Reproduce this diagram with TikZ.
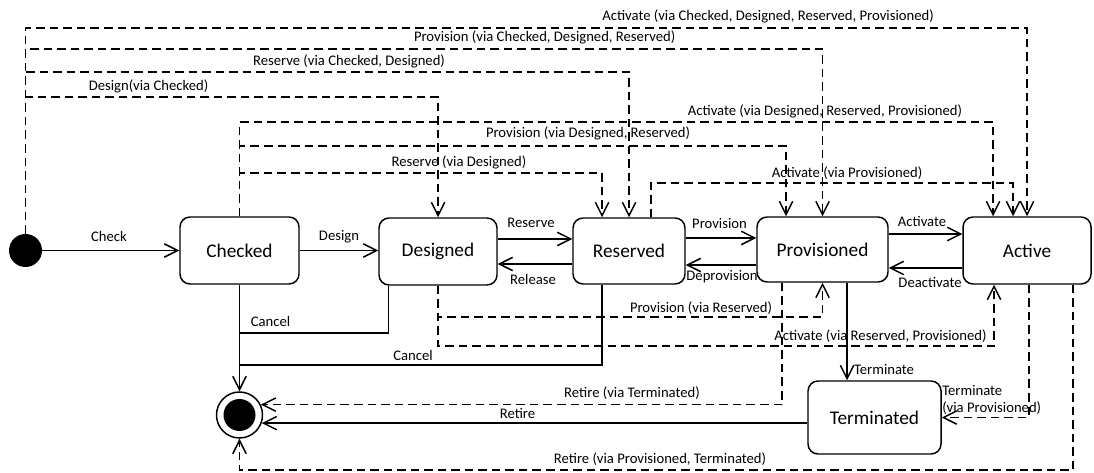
\documentclass[tikz,border=0pt]{standalone}
\usepackage{fontspec}
\setmainfont{Carlito}
\usetikzlibrary{arrows.meta,calc}
\tikzset{
  stbox/.style={draw,rounded corners=7.5pt,line width=1.1pt,inner sep=0pt,font=\fontsize{14.5}{16}\selectfont},
  lbl/.style={inner sep=0pt,font=\fontsize{11}{13}\selectfont},
  sl/.style={line width=1.1pt},
  tr/.style={line width=1.1pt,-{Straight Barb[length=10pt,width=10pt,line width=1.1pt]}},
  dtr/.style={line width=1.1pt,dash pattern=on 6.4pt off 3.75pt,-{Straight Barb[length=10pt,width=10pt,line width=1.1pt]}}
}
\begin{document}
\begin{tikzpicture}[x=0.75pt,y=-0.75pt]
\useasboundingbox (0,0) rectangle (1094,473);
% states
\node[circle,fill=black,inner sep=0pt,minimum size=24.75pt] (init) at (25.5,250.5) {};
\node[circle,draw,line width=1.1pt,inner sep=0pt,minimum size=34.5pt] (fin) at (239.5,415) {};
\node[circle,fill=black,inner sep=0pt,minimum size=24pt] (fincore) at (fin) {};
\node[stbox,minimum width=89.25pt,minimum height=50.25pt] (checked) at (239.5,250.5) {Checked};
\node[stbox,minimum width=88.5pt,minimum height=50.25pt] (des) at (438,251.5) {Designed};
\node[stbox,minimum width=84pt,minimum height=49.5pt] (res) at (629,251) {Reserved};
\node[stbox,minimum width=98.25pt,minimum height=48.75pt] (prov) at (822.5,249.5) {Provisioned};
\node[stbox,minimum width=96pt,minimum height=50.25pt] (active) at (1027,250.5) {Active};
\node[stbox,minimum width=99.75pt,minimum height=54.75pt] (term) at (874.5,417.5) {Terminated};
% top dashed routes
\draw[dtr] (init.north) -- (init.north |- 0,28) -| (active.north);
\draw[dtr] (init.north) -- (init.north |- 0,49) -| (prov.north);
\draw[dtr] (init.north) -- (init.north |- 0,72) -| (res.north);
\draw[dtr] (init.north) -- (init.north |- 0,97) -| (des.north);
\draw[dtr] (checked.north) -- (checked.north |- 0,122) -| ($(active.north)+(-34,0)$);
\draw[dtr] (checked.north) -- (checked.north |- 0,146) -| ($(prov.north)+(-36.5,0)$);
\draw[dtr] (checked.north) -- (checked.north |- 0,173) -| ($(res.north)+(-27,0)$);
\draw[dtr] ($(res.north)+(22,0)$) coordinate (r8) -- (r8 |- 0,183) -| ($(active.north)+(-14,0)$);
% horizontal transitions
\draw[tr] (init.east) -- (checked.west);
\draw[tr] (checked.east) -- (checked.east -| des.west);
\draw[tr] (des.east |- 0,239) -- (res.west |- 0,239);
\draw[tr] (res.west |- 0,264) -- (des.east |- 0,264);
\draw[tr] (res.east |- 0,238) -- (prov.west |- 0,238);
\draw[tr] (prov.west |- 0,265) -- (res.east |- 0,265);
\draw[tr] (prov.east |- 0,234) -- (active.west |- 0,234);
\draw[tr] (active.west |- 0,268) -- (prov.east |- 0,268);
% bottom
\draw[tr] (checked.south) -- (fin.north);
\draw[sl] ($(des.south)+(-49.5,0)$) |- (checked.south |- 0,333);
\draw[sl] ($(res.south)+(-27,0)$) |- (checked.south |- 0,365);
\draw[dtr] (des.south) -- (des.south |- 0,317) -| (prov.south);
\draw[dtr] (des.south) -- (des.south |- 0,346) -| ($(active.south)+(-33,0)$);
\draw[dtr] ($(prov.south)+(-40.5,0)$) |- (fin.26);
\draw[tr] ($(prov.south)+(24.5,0)$) coordinate (t1) -- (t1 |- term.north);
\draw[dtr] ($(active.south)+(2,0)$) |- (term.east);
\draw[tr] (term.west |- fin.-20) -- (fin.-20);
\draw[dtr] ($(active.south)+(46,0)$) coordinate (a17) -- (a17 |- 0,470) -| (fin.south);
% labels
\node[lbl] (l1) at (768,16) {Activate (via Checked, Designed, Reserved, Provisioned)};
\node[lbl] (l2) at (544.6,37) {Provision (via Checked, Designed, Reserved)};
\node[lbl] (l3) at (349,61) {Reserve (via Checked, Designed)};
\node[lbl] (l4) at (148.5,86) {Design(via Checked)};
\node[lbl] (l5) at (825,111) {Activate (via Designed, Reserved, Provisioned)};
\node[lbl] (l6) at (588,133) {Provision (via Designed, Reserved)};
\node[lbl] (l7) at (459,162) {Reserve (via Designed)};
\node[lbl] (l8) at (847,173) {Activate (via Provisioned)};
\node[lbl] (l9) at (109,236) {Check};
\node[lbl] (l10) at (339,237) {Design};
\node[lbl] (l11) at (531,223) {Reserve};
\node[lbl] (l12) at (533,279) {Release};
\node[lbl] (l13) at (719.5,224) {Provision};
\node[lbl] (l14) at (722,277) {Deprovision};
\node[lbl] (l15) at (922,221) {Activate};
\node[lbl] (l16) at (930,282) {Deactivate};
\node[lbl] (l17) at (270.6,321) {Cancel};
\node[lbl] (l18) at (413,355) {Cancel};
\node[lbl] (l19) at (701,308) {Provision (via Reserved)};
\node[lbl] (l20) at (880.5,336) {Activate (via Reserved, Provisioned)};
\node[lbl] (l21) at (632,393) {Retire (via Terminated)};
\node[lbl] (l22) at (884,370) {Terminate};
\node[lbl,align=left,anchor=west] (l23) at (942,400) {Terminate\\(via Provisioned)};
\node[lbl] (l24) at (517.5,413) {Retire};
\node[lbl] (l25) at (660,459) {Retire (via Provisioned, Terminated)};
\end{tikzpicture}
\end{document}
